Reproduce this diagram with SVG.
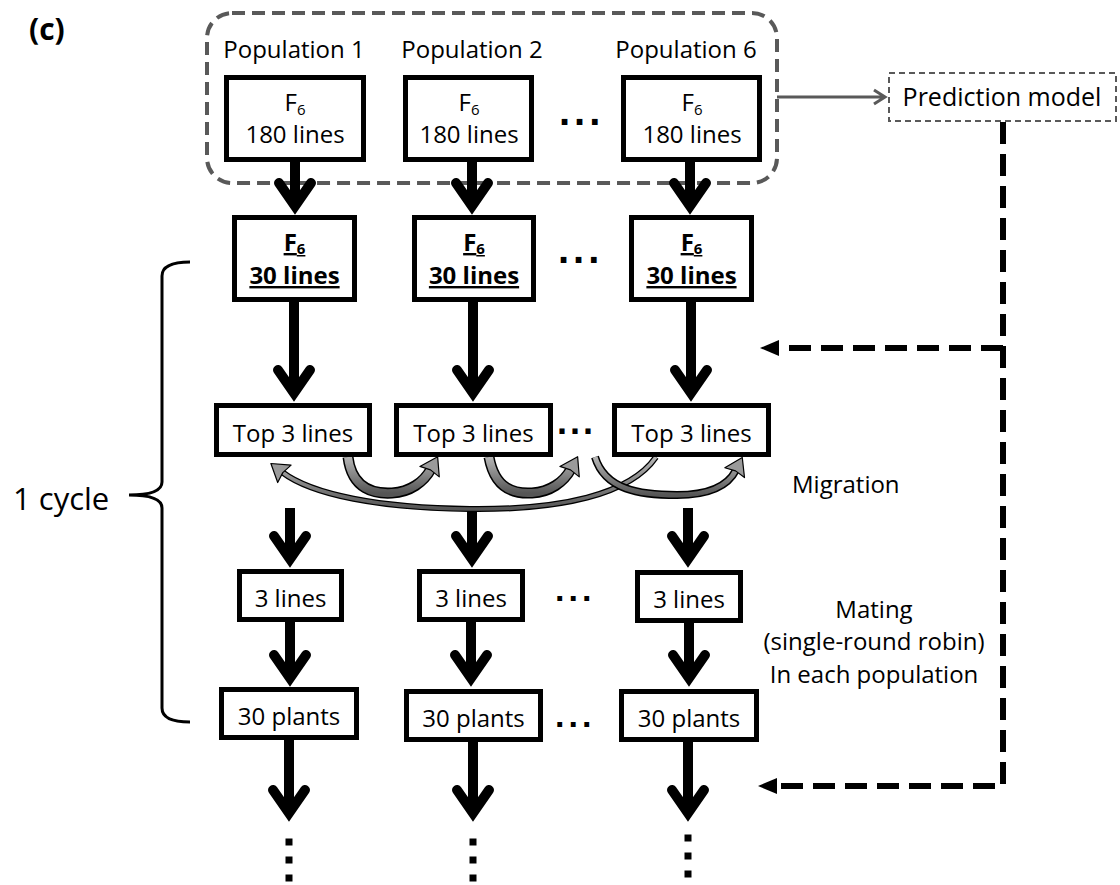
<svg xmlns="http://www.w3.org/2000/svg" width="1120" height="885" viewBox="0 0 1120 885">
<style>
text{font-family:"Open Sans","Liberation Sans",sans-serif;font-size:24px;fill:#000}
.c{text-anchor:middle}
.b{font-weight:bold}
.u{text-decoration:underline}
.dots{font-family:"Liberation Sans",sans-serif;font-weight:bold;font-size:40px;letter-spacing:4px}
.box{fill:#fff;stroke:#000;stroke-width:5}
.shaft{fill:none;stroke:#000;stroke-width:10}
.vd{fill:none;stroke:#000;stroke-width:7;stroke-dasharray:7 11}
.fb{fill:none;stroke:#000;stroke-width:6;stroke-dasharray:22 10}
.mo{fill:none;stroke:#000}
.mi{fill:none;stroke:url(#mg)}
</style>
<defs>
<marker id="chev" markerUnits="userSpaceOnUse" orient="auto" overflow="visible" markerWidth="1" markerHeight="1">
<path d="M -23 -16 L 0 0 L -23 16" fill="none" stroke="#000" stroke-width="10" stroke-linecap="round" stroke-linejoin="miter"/>
</marker>
<marker id="mh" markerUnits="userSpaceOnUse" orient="auto" overflow="visible" markerWidth="1" markerHeight="1">
<path d="M -3 -11 L 14 0 L -3 11 L -1 0 Z" fill="#9a9a9a" stroke="#000" stroke-width="1.2" stroke-linejoin="round"/>
</marker>
<linearGradient id="mg" x1="0" y1="0" x2="0" y2="1">
<stop offset="0" stop-color="#b5b5b5"/>
<stop offset="1" stop-color="#555"/>
</linearGradient>
</defs>

<text x="29" y="40" class="b" style="font-size:30px">(c)</text>

<g id="group-box">
<rect x="207" y="13" width="570" height="170" rx="25" fill="none" stroke="#595959" stroke-width="4" stroke-dasharray="13 7"/>
<text x="294" y="58" class="c">Population 1</text>
<text x="472" y="58" class="c">Population 2</text>
<text x="686" y="58" class="c">Population 6</text>
</g>

<g id="connectors">
<path class="shaft" d="M 295 160 V 206" marker-end="url(#chev)"/>
<path class="shaft" d="M 472 160 V 206" marker-end="url(#chev)"/>
<path class="shaft" d="M 690 160 V 206" marker-end="url(#chev)"/>
<path class="shaft" d="M 294 300 V 393" marker-end="url(#chev)"/>
<path class="shaft" d="M 473 300 V 393" marker-end="url(#chev)"/>
<path class="shaft" d="M 691 300 V 393" marker-end="url(#chev)"/>
<path class="shaft" d="M 290 508 V 559" marker-end="url(#chev)"/>
<path class="shaft" d="M 472 508 V 559" marker-end="url(#chev)"/>
<path class="shaft" d="M 688 508 V 559" marker-end="url(#chev)"/>
<path class="shaft" d="M 290 620 V 678" marker-end="url(#chev)"/>
<path class="shaft" d="M 471 620 V 678" marker-end="url(#chev)"/>
<path class="shaft" d="M 689 620 V 678" marker-end="url(#chev)"/>
<path class="shaft" d="M 289 740 V 813" marker-end="url(#chev)"/>
<path class="shaft" d="M 473 740 V 813" marker-end="url(#chev)"/>
<path class="shaft" d="M 688 740 V 813" marker-end="url(#chev)"/>
<path class="vd" d="M 289 838.5 V 881.5"/>
<path class="vd" d="M 473 838.5 V 881.5"/>
<path class="vd" d="M 688 834.5 V 877.5"/>
<path d="M 777 97 H 884 M 874 90 L 885 97 L 874 104" fill="none" stroke="#595959" stroke-width="3"/>
<path class="fb" d="M 1003 122 V 786 H 776"/>
<path class="fb" d="M 1003 348 H 776"/>
<polygon points="760,348 779,340 779,356" fill="#000"/>
<polygon points="758,786 777,778 777,794" fill="#000"/>
<path class="mo" stroke-width="6" d="M 656 457 C 630 495 560 510 470 509 C 380 508 312 495 282 472"/>
<path class="mi" stroke-width="3.5" d="M 656 457 C 630 495 560 510 470 509 C 380 508 312 495 282 472" marker-end="url(#mh)"/>
<path class="mo" stroke-width="11" d="M 348 457 C 352 490 375 494 392 493 C 410 492 424 482 431 469"/>
<path class="mi" stroke-width="8" d="M 348 457 C 352 490 375 494 392 493 C 410 492 424 482 431 469" marker-end="url(#mh)"/>
<path class="mo" stroke-width="11" d="M 489 457 C 495 490 515 494 532 493 C 550 492 564 482 571 469"/>
<path class="mi" stroke-width="8" d="M 489 457 C 495 490 515 494 532 493 C 550 492 564 482 571 469" marker-end="url(#mh)"/>
<path class="mo" stroke-width="8" d="M 595 457 C 605 490 640 495 677 495 C 708 495 728 486 736 470"/>
<path class="mi" stroke-width="5" d="M 595 457 C 605 490 640 495 677 495 C 708 495 728 486 736 470" marker-end="url(#mh)"/>
</g>

<g id="pop1-f6-180">
<rect class="box" x="226.5" y="77.5" width="137" height="82"/>
<text x="295" y="111" class="c">F<tspan dy="4" style="font-size:15px">6</tspan></text>
<text x="295" y="143" class="c">180 lines</text>
</g>
<g id="pop2-f6-180">
<rect class="box" x="405.5" y="77.5" width="126" height="82"/>
<text x="469" y="111" class="c">F<tspan dy="4" style="font-size:15px">6</tspan></text>
<text x="469" y="143" class="c">180 lines</text>
</g>
<g id="pop6-f6-180">
<rect class="box" x="623.5" y="77.5" width="136" height="82"/>
<text x="692" y="111" class="c">F<tspan dy="4" style="font-size:15px">6</tspan></text>
<text x="692" y="143" class="c">180 lines</text>
</g>
<text x="559" y="125" class="dots">...</text>

<g id="prediction-model">
<rect x="889" y="73" width="227" height="48" fill="#fff" stroke="#595959" stroke-width="2" stroke-dasharray="6 4"/>
<text x="1002" y="106" class="c" style="font-size:25px">Prediction model</text>
</g>

<g id="pop1-f6-30">
<rect class="box" x="234.5" y="217.5" width="120" height="82"/>
<text x="294.5" y="251" class="c b u">F<tspan dy="3" style="font-size:15px">6</tspan></text>
<text x="294.5" y="284" class="c b u">30 lines</text>
</g>
<g id="pop2-f6-30">
<rect class="box" x="414.5" y="217.5" width="119" height="82"/>
<text x="474" y="251" class="c b u">F<tspan dy="3" style="font-size:15px">6</tspan></text>
<text x="474" y="284" class="c b u">30 lines</text>
</g>
<g id="pop6-f6-30">
<rect class="box" x="631.5" y="217.5" width="120" height="82"/>
<text x="691.5" y="251" class="c b u">F<tspan dy="3" style="font-size:15px">6</tspan></text>
<text x="691.5" y="284" class="c b u">30 lines</text>
</g>
<text x="558" y="263" class="dots">...</text>

<g id="pop1-top3">
<rect class="box" x="216.5" y="405.5" width="153" height="49"/>
<text x="293" y="442" class="c">Top 3 lines</text>
</g>
<g id="pop2-top3">
<rect class="box" x="396.5" y="405.5" width="154" height="49"/>
<text x="473.5" y="442" class="c">Top 3 lines</text>
</g>
<g id="pop6-top3">
<rect class="box" x="614.5" y="405.5" width="154" height="49"/>
<text x="691.5" y="442" class="c">Top 3 lines</text>
</g>
<text x="557" y="434" class="dots" style="font-size:36px;letter-spacing:3px">...</text>
<text x="792" y="493">Migration</text>

<g id="pop1-3lines">
<rect class="box" x="239.5" y="571.5" width="102" height="48"/>
<text x="290.5" y="607" class="c">3 lines</text>
</g>
<g id="pop2-3lines">
<rect class="box" x="419.5" y="571.5" width="103" height="48"/>
<text x="471" y="607" class="c">3 lines</text>
</g>
<g id="pop6-3lines">
<rect class="box" x="637.5" y="572.5" width="103" height="48"/>
<text x="689" y="608" class="c">3 lines</text>
</g>
<text x="555" y="601" class="dots" style="font-size:34px;letter-spacing:4px">...</text>

<g id="pop1-30plants">
<rect class="box" x="221.5" y="689.5" width="135" height="48"/>
<text x="289" y="725" class="c">30 plants</text>
</g>
<g id="pop2-30plants">
<rect class="box" x="406.5" y="691.5" width="134" height="48"/>
<text x="473.5" y="727" class="c">30 plants</text>
</g>
<g id="pop6-30plants">
<rect class="box" x="621.5" y="691.5" width="135" height="48"/>
<text x="689" y="727" class="c">30 plants</text>
</g>
<text x="555" y="727" class="dots" style="font-size:34px;letter-spacing:4px">...</text>

<text x="874" y="618" class="c">Mating</text>
<text x="874" y="650" class="c">(single-round robin)</text>
<text x="874" y="683" class="c">In each population</text>

<g id="cycle-brace">
<path d="M 190 262 Q 162 262 162 276 L 162 482 Q 162 495 129 495 Q 162 495 162 508 L 162 708 Q 162 722 190 722" fill="none" stroke="#000" stroke-width="3"/>
<text x="13" y="510" style="font-size:31px">1 cycle</text>
</g>
</svg>
